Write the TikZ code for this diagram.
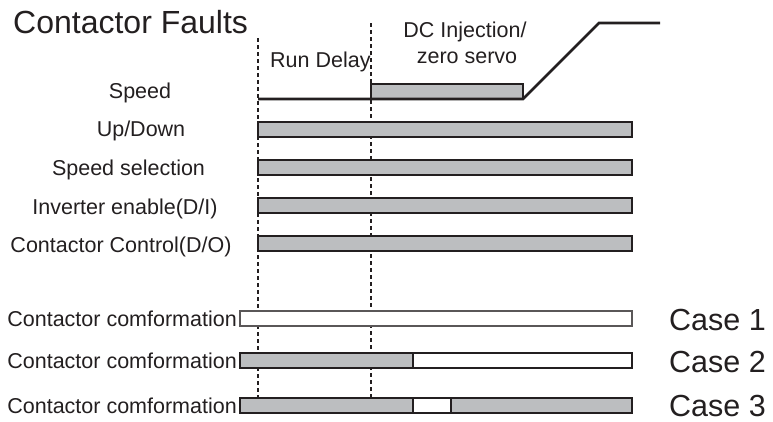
\documentclass[tikz,border=0pt]{standalone}
\usepackage{fontspec}
\setmainfont{Liberation Sans}
\definecolor{barfill}{HTML}{BCBEC0}
\definecolor{ink}{HTML}{231F20}
\begin{document}
\begin{tikzpicture}[x=1pt,y=-1pt,
  bar/.style={draw=ink, line width=1.4pt, fill=barfill},
  openbar/.style={draw=ink, line width=1.4pt, fill=white},
  lbl/.style={inner sep=0pt, font=\fontsize{21.5}{25}\selectfont, text=ink},
  big/.style={inner sep=0pt, font=\fontsize{30.5}{36}\selectfont, text=ink},
  guide/.style={draw=ink, line width=1.1pt, dash pattern=on 4pt off 3pt},
  sig/.style={draw=ink, line width=2.8pt}]
\useasboundingbox (0,0) rectangle (773,421);
% guide lines
\coordinate (g1t) at (258,38);
\coordinate (g1b) at (258,398);
\coordinate (g2t) at (371,23);
\coordinate (g2b) at (371,398);
\draw[guide] (g1t) -- (g1b);
\draw[guide] (g2t) -- (g2b);
% title and phase labels
\node[inner sep=0pt, font=\fontsize{32}{38}\selectfont, text=ink, anchor=base west] (title) at (13,33) {Contactor Faults};
\node[lbl, anchor=base west] (rundelay) at (270,67) {Run Delay};
\node[lbl, anchor=base] (dc1) at (465,37) {DC Injection/};
\node[lbl, anchor=base] (dc2) at (467,63) {zero servo};
% speed
\node[lbl, anchor=base] (lspeed) at (140,98) {Speed};
\draw[bar] (371,84) rectangle (523,99);
\coordinate (s0) at (258,99);
\coordinate (s1) at (523,99);
\coordinate (s2) at (599,23);
\coordinate (s3) at (660,23);
\draw[sig] (s0) -- (s1) -- (s2) -- (s3);
% signal bars
\node[lbl, anchor=base] (lud) at (141,136.5) {Up/Down};
\draw[bar] (258,122) rectangle (632,137);
\node[lbl, anchor=base] (lss) at (128.5,175) {Speed selection};
\draw[bar] (258,160) rectangle (632,175);
\node[lbl, anchor=base] (lie) at (125,214) {Inverter enable(D/I)};
\draw[bar] (258,198) rectangle (632,213);
\node[lbl, anchor=base] (lcc) at (121,252) {Contactor Control(D/O)};
\draw[bar] (258,236) rectangle (632,251);
% contactor conformation cases
\node[lbl, anchor=base east] (lc1) at (237,326) {Contactor comformation};
\draw[openbar, draw=ink!75] (240,311) rectangle (632,326);
\node[big, anchor=base west] (case1) at (669,330) {Case 1};
\node[lbl, anchor=base east] (lc2) at (237,368) {Contactor comformation};
\draw[openbar] (413,353) rectangle (632,368);
\draw[bar] (240,353) rectangle (413,368);
\node[big, anchor=base west] (case2) at (669,372) {Case 2};
\node[lbl, anchor=base east] (lc3) at (237,413) {Contactor comformation};
\draw[bar] (240,398) rectangle (413,413);
\draw[openbar] (413,398) rectangle (451,413);
\draw[bar] (451,398) rectangle (632,413);
\node[big, anchor=base west] (case3) at (669,416) {Case 3};
\end{tikzpicture}
\end{document}
